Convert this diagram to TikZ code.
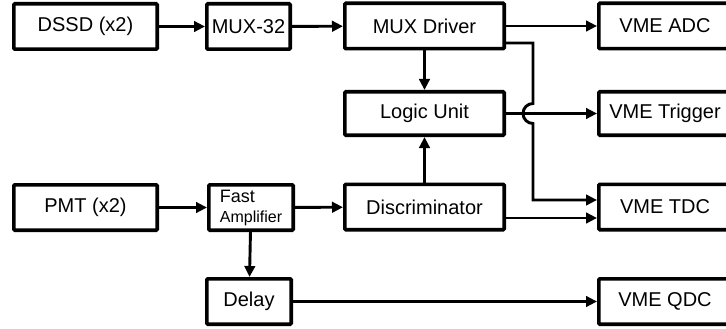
\documentclass[tikz,border=0pt]{standalone}
\usepackage{fontspec}
\setmainfont{Liberation Sans}
\usepackage{tikz}
\usetikzlibrary{calc,arrows.meta,positioning}

\begin{document}
\begin{tikzpicture}[x=1pt,y=-1pt,
		box/.style={draw,line width=3.6pt,rounded corners=1pt,minimum height=45.4pt,inner sep=2pt,font=\fontsize{20}{24}\selectfont},
		conn/.style={line width=2.9pt,-{Triangle[length=11pt,width=10.5pt]}}]
		\clip (0,0) rectangle (726,329);
		\node[box,minimum width=143.4pt] (dssd) at (85.5,26.5) {DSSD (x2)};
		\node[box,minimum width=83.4pt] (mux) at (248.5,26.5) {MUX-32};
		\node[box,minimum width=159.4pt] (muxd) at (424.5,26) {MUX Driver};
		\node[box,minimum width=132.4pt] (adc) at (665,26) {VME ADC};
		\node[box,minimum width=159.4pt,minimum height=43.4pt] (logic) at (424.5,113.5) {Logic Unit};
		\node[box,minimum width=132.4pt,minimum height=43.4pt] (trig) at (665,113.5) {VME Trigger};
		\node[box,minimum width=143.4pt] (pmt) at (85.5,207.5) {PMT (x2)};
		\node[box,minimum width=84.4pt,align=left,font=\fontsize{16}{20}\selectfont] (amp) at (251,207.5) {{\fontsize{18}{20}\selectfont Fast}\\Amplifier};
		\node[box,minimum width=159.4pt] (disc) at (424.5,207) {Discriminator};
		\node[box,minimum width=132.4pt] (tdc) at (665,207) {VME TDC};
		\node[box,minimum width=84.4pt] (delay) at (249,301.5) {Delay};
		\node[box,minimum width=132.4pt] (qdc) at (665,301.5) {VME QDC};
		\coordinate (hop) at ($(muxd.east |- logic.east)+(27,0)$);
		\draw[conn] (dssd) -- (mux);
		\draw[conn] (mux) -- (muxd);
		\draw[conn] (muxd) -- (adc);
		\draw[conn] (muxd) -- (logic);
		\draw[conn] (disc) -- (logic);
		\draw[conn] (logic) -- (trig);
		\draw[conn] (pmt) -- (amp);
		\draw[conn] (amp) -- (disc);
		\draw[conn] (amp) -- (delay);
		\draw[conn] (delay) -- (qdc);
		\draw[conn] ($(disc.east)+(0,11)$) -- ($(tdc.west)+(0,11)$);
		\draw[conn] ($(muxd.east)+(0,17)$) -| ($(hop)+(0,-10)$) arc[start angle=-90,end angle=-270,radius=10] |- ($(tdc.west)+(0,-7)$);
	\end{tikzpicture}
\end{document}
